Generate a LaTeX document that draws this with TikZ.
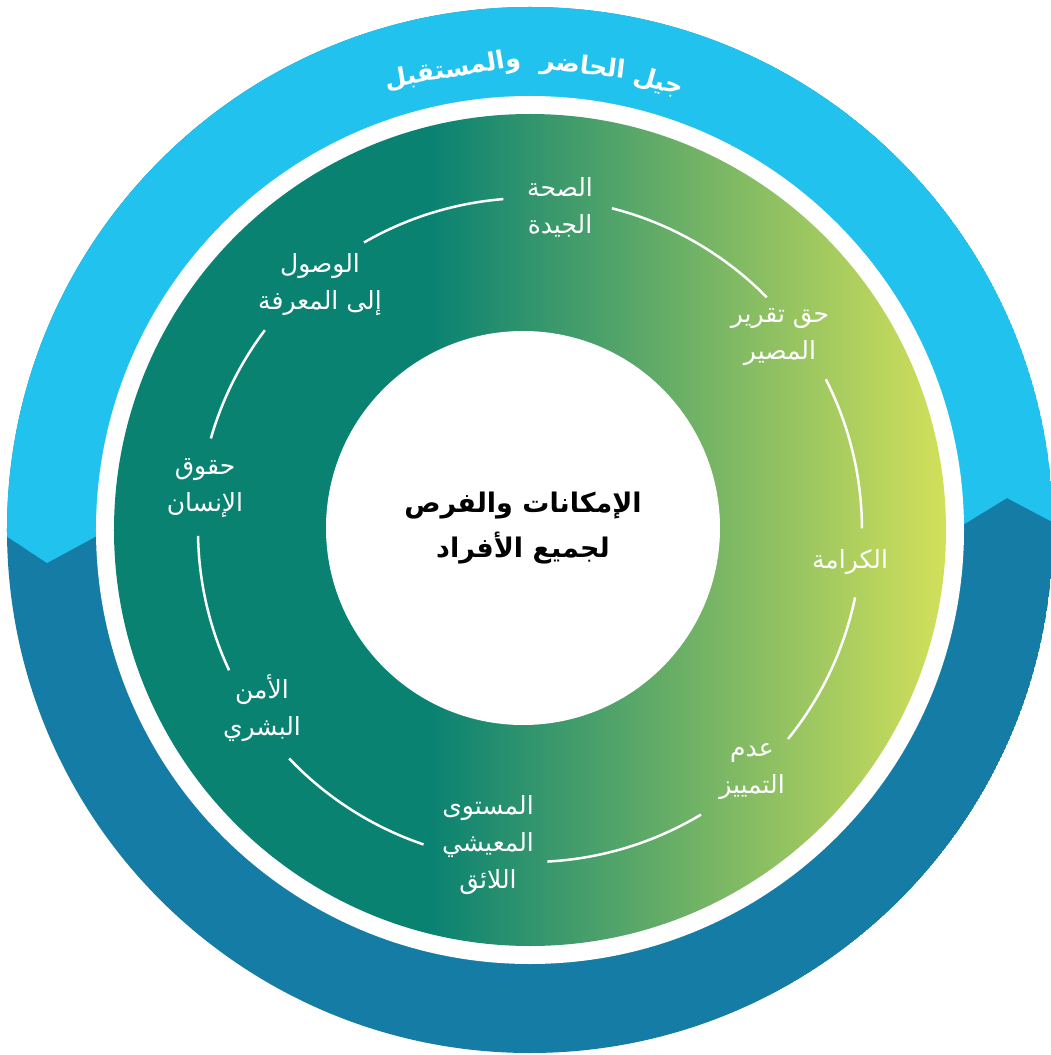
\documentclass[tikz,border=0pt]{standalone}
\usepackage{fontspec}
\newfontfamily\arabicfont[Script=Arabic]{DejaVu Sans}
\TeXXeTstate=1
\usetikzlibrary{positioning}

\definecolor{skyband}{HTML}{21C3EE}
\definecolor{deepband}{HTML}{157DA5}
\definecolor{tealdisc}{HTML}{0A8272}
\definecolor{limedisc}{HTML}{D2E05A}
\pgfdeclarehorizontalshading{discfade}{100bp}{color(0bp)=(tealdisc); color(44bp)=(tealdisc); color(75bp)=(limedisc); color(100bp)=(limedisc)}

\newcommand{\artext}[1]{{\arabicfont\beginR #1\endR}}

\begin{document}
\begin{tikzpicture} [x = 1pt, y = 1pt,
    value/.style = {text = white, align = center, font = \fontsize{25}{37}\selectfont},
    bandword/.style = {text = white, inner sep = 1pt, font = \fontsize{25}{30}\selectfont\bfseries},
    divider/.style = {white, line width = 2.5pt}]
    \useasboundingbox (-530,-525) rectangle (520,530);

    % outer band
    \begin{scope}
        \clip (0,0) circle [radius = 523];
        \fill [deepband] (0,0) circle [radius = 523];
        \fill [skyband] (-545,8) -- (-483,-33) -- (-400,12) -- (400,-15) -- (477,32)
            -- (545,-4) -- (545,545) -- (-545,545) -- cycle;
    \end{scope}
    \fill [white] (0,0) circle [radius = 434];
    \shade [shading = discfade] (0,0) circle [radius = 416];

    \node (core) [circle, fill = white, minimum size = 394pt, inner sep = 0pt, align = center,
        font = \fontsize{27}{45}\selectfont\bfseries] at (-7,2)
        {\artext{الإمكانات والفرص}\\\artext{لجميع الأفراد}};

    % band title
    \node (jil) [bandword, rotate = -16] at (74:466) {\artext{جيل}};
    \node (hadir) [bandword, rotate = -6.5] at (83.5:466) {\artext{الحاضر}};
    \node (mustaqbal) [bandword, rotate = 9.5] at (99.5:466) {\artext{والمستقبل}};

    % rights
    \node (sahha) [value] at (30,323) {\artext{الصحة}\\\artext{الجيدة}};
    \node (taqrir) [value] at (250,193) {\artext{حق تقرير}\\\artext{المصير}};
    \node (karama) [value] at (320,-32) {\artext{الكرامة}};
    \node (tamyiz) [value] at (222,-242) {\artext{عدم}\\\artext{التمييز}};
    \node (mustawa) [value] at (-42,-315) {\artext{المستوى}\\\artext{المعيشي}\\\artext{اللائق}};
    \node (amn) [value] at (-268,-178) {\artext{الأمن}\\\artext{البشري}};
    \node (huquq) [value] at (-325,42) {\artext{حقوق}\\\artext{الإنسان}};
    \node (wusul) [value] at (-210,245) {\artext{الوصول}\\\artext{إلى المعرفة}};

    \foreach \a/\b in {94.6/120, 44.5/75.7, 0.3/27, -39/-11.7, -87/-59,
        -136.5/-108.7, -179/-155, 143/164}
        \draw [divider] (\a:332) arc [start angle = \a, end angle = \b, radius = 332];
\end{tikzpicture}
\end{document}
